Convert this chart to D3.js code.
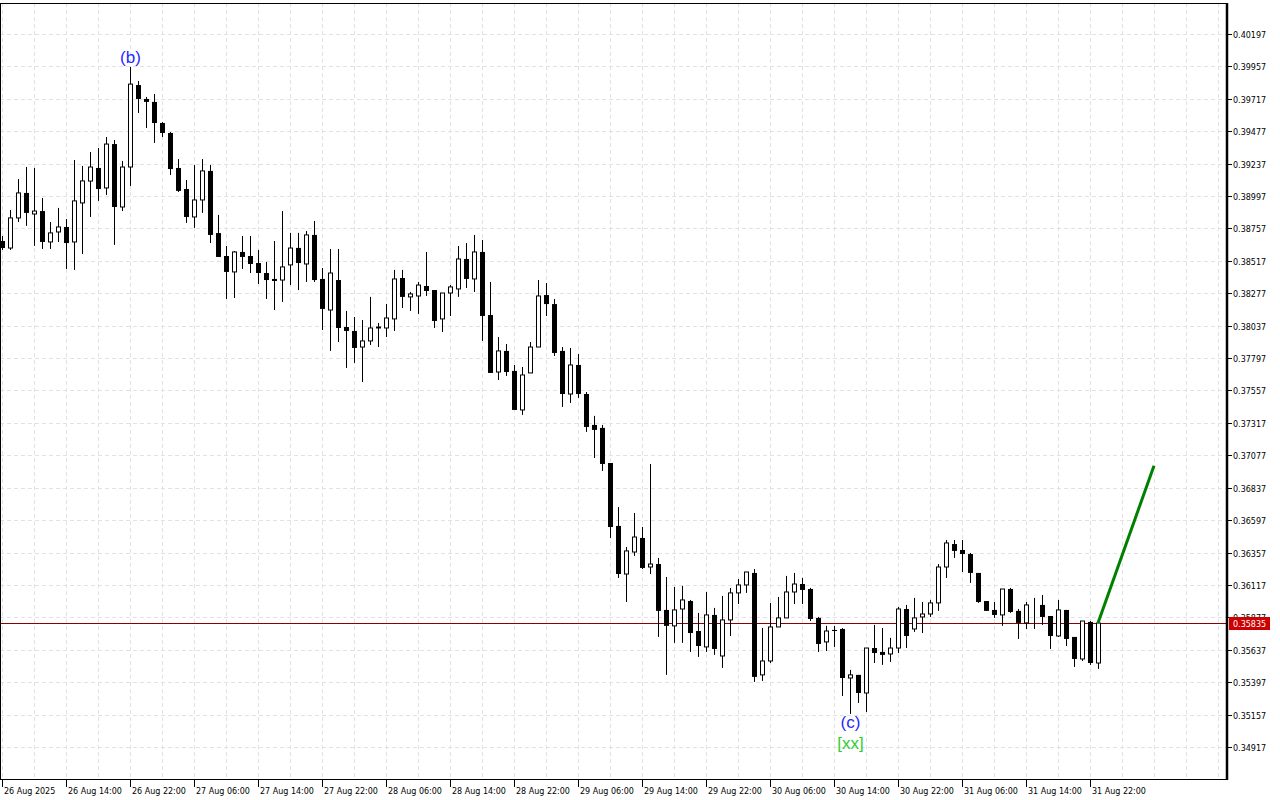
<!DOCTYPE html>
<html>
<head>
<meta charset="utf-8">
<script src="https://cdn.jsdelivr.net/npm/d3@7"></script>
<style>
  html, body { margin: 0; padding: 0; background: #fff; }
  svg { display: block; }
  .axis-text { font-family: "DejaVu Sans", sans-serif; font-size: 8px; fill: #000; }
  .wave { font-family: "Liberation Sans", Arial, sans-serif; font-size: 17px; }
</style>
</head>
<body>
<div id="body"></div>
<script>
// hourly bars, first bar 26 Aug 2025 06:00
var opens = [
  0.38664,0.38612,0.38835,0.39020,0.38864,0.38886,0.38657,0.38731,0.38768,0.38657,
  0.38946,0.39108,0.39205,0.39057,0.39382,0.38916,0.39212,0.39819,0.39716,0.39694,
  0.39538,0.39464,0.39205,0.39049,0.38842,0.38968,0.39183,0.38723,0.38553,0.38435,
  0.38583,0.38553,0.38501,0.38427,0.38383,0.38375,0.38487,0.38613,0.38494,0.38709,
  0.38383,0.38153,0.38375,0.38027,0.37998,0.37879,0.37924,0.38020,0.38020,0.38087,
  0.38390,0.38250,0.38257,0.38331,0.38301,0.38087,0.38279,0.38309,0.38531,0.38383,
  0.38583,0.38116,0.37694,0.37850,0.37702,0.37413,0.37687,0.37879,0.38264,0.38197,
  0.37850,0.37531,0.37746,0.37531,0.37302,0.37280,0.37020,0.36554,0.36198,0.36361,
  0.36465,0.36250,0.36272,0.35932,0.35814,0.35939,0.35998,0.35776,0.35658,0.35895,
  0.35591,0.35858,0.36058,0.36117,0.36206,0.35451,0.35554,0.35806,0.35873,0.36065,
  0.36124,0.36087,0.35873,0.35695,0.35784,0.35791,0.35428,0.35451,0.35317,0.35650,
  0.35621,0.35606,0.35650,0.35939,0.35791,0.35880,0.35902,0.35984,0.36250,0.36420,
  0.36376,0.36346,0.36206,0.35998,0.35932,0.35895,0.36087,0.35925,0.35836,0.35969,
  0.35969,0.35887,0.35739,0.35932,0.35732,0.35569,0.35843,0.35539
];
var highs = [
  0.38701,0.38894,0.39123,0.39212,0.39205,0.38983,0.38805,0.38909,0.38827,0.39264,
  0.39220,0.39323,0.39353,0.39434,0.39412,0.39257,0.39953,0.39849,0.39731,0.39753,
  0.39545,0.39471,0.39271,0.39116,0.39227,0.39271,0.39227,0.38857,0.38627,0.38590,
  0.38701,0.38701,0.38598,0.38509,0.38664,0.38886,0.38724,0.38724,0.38738,0.38812,
  0.38464,0.38605,0.38605,0.38146,0.38101,0.38079,0.38250,0.38057,0.38198,0.38450,
  0.38450,0.38287,0.38361,0.38583,0.38301,0.38279,0.38338,0.38627,0.38649,0.38709,
  0.38672,0.38361,0.37953,0.37901,0.37746,0.37731,0.37916,0.38375,0.38353,0.38235,
  0.37879,0.37872,0.37827,0.37546,0.37369,0.37302,0.37020,0.36694,0.36398,0.36650,
  0.36546,0.37013,0.36317,0.36176,0.36102,0.36110,0.36006,0.35910,0.36065,0.35947,
  0.36036,0.36095,0.36161,0.36213,0.36235,0.35799,0.35984,0.36028,0.36184,0.36206,
  0.36169,0.36095,0.35880,0.35814,0.35814,0.35798,0.35488,0.35451,0.35650,0.35821,
  0.35798,0.35725,0.35954,0.35969,0.36021,0.35991,0.36006,0.36272,0.36450,0.36450,
  0.36450,0.36354,0.36206,0.35998,0.35991,0.36087,0.36095,0.35939,0.35991,0.36021,
  0.36043,0.35887,0.36006,0.35932,0.35732,0.35850,0.35850,0.35843
];
var lows = [
  0.38598,0.38598,0.38805,0.38776,0.38628,0.38605,0.38605,0.38657,0.38457,0.38450,
  0.38568,0.38842,0.38961,0.39005,0.38635,0.38886,0.39072,0.39612,0.39501,0.39390,
  0.39434,0.39153,0.39027,0.38798,0.38761,0.38872,0.38649,0.38546,0.38235,0.38242,
  0.38457,0.38427,0.38346,0.38235,0.38153,0.38213,0.38338,0.38301,0.38361,0.38361,
  0.38005,0.37850,0.37916,0.37724,0.37761,0.37620,0.37894,0.37879,0.37953,0.37998,
  0.38168,0.38146,0.38124,0.38257,0.38020,0.37990,0.38109,0.38250,0.38316,0.38287,
  0.37924,0.37687,0.37635,0.37665,0.37413,0.37376,0.37687,0.37879,0.38109,0.37813,
  0.37435,0.37465,0.37502,0.37250,0.37057,0.36961,0.36465,0.36169,0.35991,0.36332,
  0.36235,0.36198,0.35732,0.35451,0.35688,0.35688,0.35621,0.35584,0.35621,0.35599,
  0.35503,0.35739,0.35976,0.36058,0.35399,0.35406,0.35539,0.35806,0.35873,0.35976,
  0.35976,0.35850,0.35621,0.35628,0.35658,0.35295,0.35162,0.35243,0.35176,0.35539,
  0.35525,0.35547,0.35613,0.35650,0.35769,0.35761,0.35880,0.35925,0.36169,0.36317,
  0.36213,0.36132,0.35984,0.35925,0.35873,0.35814,0.35910,0.35717,0.35791,0.35791,
  0.35821,0.35643,0.35732,0.35665,0.35510,0.35554,0.35525,0.35495
];
var closes = [
  0.38612,0.38835,0.39020,0.38872,0.38886,0.38657,0.38724,0.38768,0.38649,0.38961,
  0.39109,0.39212,0.39049,0.39382,0.38916,0.39212,0.39826,0.39716,0.39694,0.39538,
  0.39464,0.39197,0.39035,0.38842,0.38968,0.39183,0.38709,0.38546,0.38435,0.38583,
  0.38546,0.38494,0.38427,0.38375,0.38368,0.38472,0.38612,0.38501,0.38709,0.38375,
  0.38161,0.38427,0.38020,0.37998,0.37872,0.37924,0.38020,0.38027,0.38094,0.38383,
  0.38250,0.38272,0.38338,0.38294,0.38072,0.38279,0.38324,0.38531,0.38383,0.38583,
  0.38109,0.37687,0.37850,0.37694,0.37413,0.37672,0.37879,0.38257,0.38197,0.37835,
  0.37531,0.37746,0.37531,0.37287,0.37265,0.37013,0.36546,0.36198,0.36369,0.36472,
  0.36243,0.36272,0.35925,0.35814,0.35932,0.36006,0.35761,0.35665,0.35895,0.35643,
  0.35858,0.36058,0.36117,0.36213,0.35436,0.35554,0.35806,0.35873,0.36065,0.36124,
  0.36080,0.35865,0.35680,0.35776,0.35776,0.35428,0.35451,0.35317,0.35650,0.35613,
  0.35599,0.35650,0.35939,0.35739,0.35873,0.35902,0.35984,0.36250,0.36428,0.36369,
  0.36346,0.36206,0.35991,0.35925,0.35895,0.36087,0.35917,0.35836,0.35969,0.35969,
  0.35880,0.35739,0.35932,0.35717,0.35569,0.35850,0.35539,0.35835
];

var lastPrice = 0.35835;

var priceTicks = [0.40197,0.39957,0.39717,0.39477,0.39237,0.38997,0.38757,0.38517,0.38277,0.38037,
  0.37797,0.37557,0.37317,0.37077,0.36837,0.36597,0.36357,0.36117,0.35877,0.35637,
  0.35397,0.35157,0.34917];

var timeLabels = ["26 Aug 2025","26 Aug 14:00","26 Aug 22:00","27 Aug 06:00","27 Aug 14:00","27 Aug 22:00",
  "28 Aug 06:00","28 Aug 14:00","28 Aug 22:00","29 Aug 06:00","29 Aug 14:00","29 Aug 22:00",
  "30 Aug 06:00","30 Aug 14:00","30 Aug 22:00","31 Aug 06:00","31 Aug 14:00","31 Aug 22:00"];
var barsPerLabel = 8;
var barsPerGrid = 4;

// wave marks: bar index, text, colour, where
var waveBars  = [16, 106, 106];
var waveTexts = ["(b)", "(c)", "[xx]"];
var waveColors = ["#2828ff", "#2828ff", "#32cd32"];
var waveSide  = ["high", "low", "low2"];

// projected move from the last close
var forecastBars   = [137, 144];
var forecastPrices = [0.35835, 0.37000];

var width = 1280, height = 800;
var plot = {left: 0, top: 3, right: 1227, bottom: 779};

var body = d3.select("#body");
var svg = body.append("svg")
    .attr("width", width)
    .attr("height", height);

var x = d3.scaleLinear()
    .domain([0, opens.length - 1])
    .range([2, 2 + 8 * (opens.length - 1)]);

var y = d3.scaleLinear()
    .domain([0.34917, 0.40197])
    .range([747, 34]);

var bars = d3.range(opens.length).map(function(i) {
  return {i: i, o: opens[i], h: highs[i], l: lows[i], c: closes[i]};
});

// grid
var grid = svg.append("g").attr("class", "grid")
    .attr("stroke", "#e2e2e2")
    .attr("stroke-dasharray", "4,3")
    .attr("stroke-width", 1);

var gridBars = d3.range(0, 400, barsPerGrid).filter(function(k) { return x(k) < plot.right - 2; });
grid.selectAll("line.v").data(gridBars)
  .enter().append("line")
    .attr("class", "v")
    .attr("x1", function(d) { return Math.round(x(d)) + 0.5; })
    .attr("x2", function(d) { return Math.round(x(d)) + 0.5; })
    .attr("y1", plot.top)
    .attr("y2", plot.bottom);

grid.selectAll("line.h").data(priceTicks)
  .enter().append("line")
    .attr("class", "h")
    .attr("x1", plot.left)
    .attr("x2", plot.right)
    .attr("y1", function(d) { return Math.round(y(d)) + 0.5; })
    .attr("y2", function(d) { return Math.round(y(d)) + 0.5; });

// last price line
svg.append("line")
    .attr("x1", plot.left)
    .attr("x2", plot.right)
    .attr("y1", Math.round(y(lastPrice)) + 0.5)
    .attr("y2", Math.round(y(lastPrice)) + 0.5)
    .attr("stroke", "#8b0000")
    .attr("stroke-width", 1);

// candles
var candles = svg.append("g").attr("class", "candles");

candles.selectAll("line.wick").data(bars)
  .enter().append("line")
    .attr("class", "wick")
    .attr("x1", function(d) { return x(d.i) + 0.5; })
    .attr("x2", function(d) { return x(d.i) + 0.5; })
    .attr("y1", function(d) { return y(d.h); })
    .attr("y2", function(d) { return y(d.l); })
    .attr("stroke", "#000")
    .attr("stroke-width", 1);

candles.selectAll("rect.body").data(bars)
  .enter().append("rect")
    .attr("class", "body")
    .attr("x", function(d) { return d.c >= d.o ? x(d.i) - 1.5 : x(d.i) - 2; })
    .attr("width", function(d) { return d.c >= d.o ? 4 : 5; })
    .attr("y", function(d) { return y(Math.max(d.o, d.c)); })
    .attr("height", function(d) { return Math.max(Math.abs(y(d.o) - y(d.c)), d.c >= d.o ? 0 : 1); })
    .attr("fill", function(d) { return d.c >= d.o ? "#fff" : "#000"; })
    .attr("stroke", function(d) { return d.c >= d.o ? "#000" : "none"; })
    .attr("stroke-width", 1);

// forecast line
svg.append("path")
    .datum(d3.range(forecastBars.length))
    .attr("d", d3.line()
        .x(function(j) { return x(forecastBars[j]); })
        .y(function(j) { return y(forecastPrices[j]); }))
    .attr("fill", "none")
    .attr("stroke", "#008000")
    .attr("stroke-width", 3);

// wave labels
svg.selectAll("text.wave").data(d3.range(waveBars.length))
  .enter().append("text")
    .attr("class", "wave")
    .attr("text-anchor", "middle")
    .attr("x", function(j) { return x(waveBars[j]) + 0.5; })
    .attr("y", function(j) {
      var k = waveBars[j];
      if (waveSide[j] == "high") return y(highs[k]) - 4;
      if (waveSide[j] == "low") return y(lows[k]) + 14;
      return y(lows[k]) + 35;
    })
    .attr("fill", function(j) { return waveColors[j]; })
    .text(function(j) { return waveTexts[j]; });

// frame
var frame = svg.append("g").attr("stroke", "#000").attr("fill", "none");
frame.append("line").attr("x1", 0).attr("x2", plot.right).attr("y1", plot.top + 0.5).attr("y2", plot.top + 0.5);
frame.append("line").attr("x1", 0.5).attr("x2", 0.5).attr("y1", plot.top).attr("y2", plot.bottom);
frame.append("line").attr("x1", 0).attr("x2", plot.right + 1).attr("y1", plot.bottom + 0.5).attr("y2", plot.bottom + 0.5);
frame.append("line").attr("x1", plot.right).attr("x2", plot.right).attr("y1", plot.top).attr("y2", plot.bottom + 1)
    .attr("stroke-width", 2.5);

// price scale
var yAxisG = svg.append("g").attr("class", "y axis");
yAxisG.selectAll("line").data(priceTicks)
  .enter().append("line")
    .attr("x1", plot.right + 1)
    .attr("x2", plot.right + 5)
    .attr("y1", function(d) { return Math.round(y(d)) + 0.5; })
    .attr("y2", function(d) { return Math.round(y(d)) + 0.5; })
    .attr("stroke", "#000");
yAxisG.selectAll("text").data(priceTicks)
  .enter().append("text")
    .attr("class", "axis-text")
    .attr("x", plot.right + 6)
    .attr("y", function(d) { return Math.round(y(d)) + 3.5; })
    .text(function(d) { return d.toFixed(5); });

// last price tag
var tagY = Math.round(y(lastPrice));
svg.append("rect")
    .attr("x", plot.right + 2)
    .attr("y", tagY - 6)
    .attr("width", 41)
    .attr("height", 13)
    .attr("fill", "#cc0000");
svg.append("text")
    .attr("class", "axis-text")
    .attr("x", plot.right + 6)
    .attr("y", tagY + 3.5)
    .attr("fill", "#fff")
    .style("fill", "#fff")
    .text(lastPrice.toFixed(5));

// time scale
var xAxisG = svg.append("g").attr("class", "x axis");
xAxisG.selectAll("line").data(timeLabels)
  .enter().append("line")
    .attr("x1", function(d, i) { return Math.round(x(i * barsPerLabel)) + 0.5; })
    .attr("x2", function(d, i) { return Math.round(x(i * barsPerLabel)) + 0.5; })
    .attr("y1", plot.bottom)
    .attr("y2", plot.bottom + 8)
    .attr("stroke", "#000");
xAxisG.selectAll("text").data(timeLabels)
  .enter().append("text")
    .attr("class", "axis-text")
    .attr("x", function(d, i) { return x(i * barsPerLabel) + 2; })
    .attr("y", plot.bottom + 15)
    .text(function(d) { return d; });
</script>
</body>
</html>
